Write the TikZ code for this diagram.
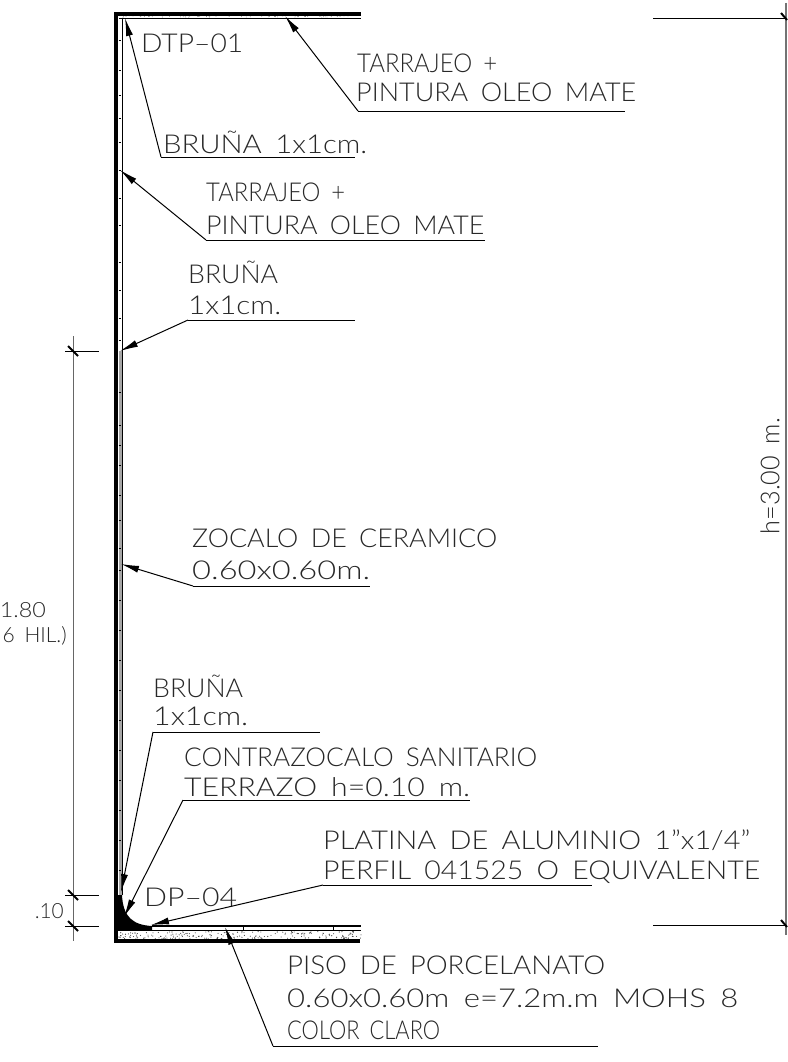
\documentclass[tikz,border=0pt]{standalone}
\usepackage{fontspec}
\setmainfont{Lato Light}[WordSpace=1.7]
\usetikzlibrary{arrows.meta}
\definecolor{tinta}{RGB}{40,40,40}
\newcommand{\ajusta}[2]{\resizebox{#1pt}{\height}{#2}}
\tikzset{
  etiqueta/.style={anchor=west,inner sep=0pt,text=tinta,font=\fontsize{26}{27}\selectfont},
  chica/.style={font=\fontsize{21}{22}\selectfont},
  guia/.style={line width=1pt,-{Latex[length=18pt,width=7pt]}},
  subraya/.style={line width=0.9pt},
  cota/.style={line width=0.9pt,black!60},
  extension/.style={line width=0.9pt},
  tick/.style={line width=2pt,black},
  muro/.style={line width=3.5pt,line cap=square}
}
\begin{document}
\begin{tikzpicture}[x=1pt,y=-1pt]
  \useasboundingbox (0,0) rectangle (787,1062);
  \fill[white] (0,0) rectangle (787,1062);
  % acabado de piso
  \pgfmathsetseed{41}
  \foreach \i in {1,...,210}
    \fill[black!75] ({118+rnd*243},{931.5+rnd*7.5}) circle (0.55);
  % acabado de techo
  \foreach \i in {1,...,60}
    \fill[black!60] ({120+rnd*240},{15.8+rnd*1.4}) circle (0.4);
  % muro y tarrajeo
  \fill[black!35] (118.5,351) rectangle (122,926);
  \draw[line width=0.8pt] (122.5,18) -- (122.5,895);
  \foreach \y in {40,70,95,118,142,170,198,225,262,290,318,340,
                  392,425,445,465,495,520,548,570,600,630,660,690,720,750,780,810,840,870}
    \draw[line width=0.7pt] (118.5,\y) -- (120.5,\y);
  \draw[line width=0.9pt] (119,18) -- (361,18);
  \draw[line width=1.1pt] (152,926) -- (361,926);
  \draw[line width=0.8pt] (118,930) -- (361,930);
  \foreach \x in {243,333}
    \draw[line width=0.6pt] (\x,926) -- (\x,930);
  \draw[muro] (361,14) -- (116,14) -- (116,941) -- (360,941);
  % contrazocalo
  \fill[black] (118,895) -- (122,895) .. controls (123,917) and (133,925) .. (152,926)
     -- (152,930) -- (118,930) -- cycle;
  % cota izquierda
  \coordinate (cotaA) at (73,336);
  \coordinate (cotaB) at (73,941);
  \draw[cota] (cotaA) -- (cotaB);
  \foreach \y in {351,895,926} {
    \draw[extension] (65,\y) -- (99,\y);
    \draw[tick] (68,\y-5) -- (78,\y+5);
  }
  \node[etiqueta,chica,anchor=east] (cotaTotal) at (46,610) {\ajusta{46}{1.80}};
  \node[etiqueta,chica,anchor=east] (cotaHil) at (67,636) {6 HIL.)};
  \node[etiqueta,chica,anchor=east] (cotaDiez) at (64,911) {\ajusta{29}{.10}};
  % cota derecha
  \coordinate (cotaC) at (786,3);
  \coordinate (cotaD) at (786,935);
  \draw[line width=1.4pt,black!55] (cotaC) -- (cotaD);
  \foreach \y in {18,925} {
    \draw[extension] (653,\y) -- (786,\y);
    \draw[tick] (781,\y-5) -- (787,\y+2);
  }
  \node[etiqueta,anchor=center,rotate=90] (altura) at (770,476) {\ajusta{116}{h=3.00 m.}};
  % textos
  \node[etiqueta] (dtp) at (141,43) {\ajusta{102}{DTP--01}};
  \node[etiqueta] (dp) at (144,897) {\ajusta{93}{DP--04}};
  \node[etiqueta] (tarrA) at (357,63) {\ajusta{140}{TARRAJEO +}};
  \node[etiqueta] (pintA) at (356,92) {\ajusta{280}{PINTURA OLEO MATE}};
  \node[etiqueta] (brunaA) at (163,142) {\ajusta{204}{BRUÑA 1x1cm.}};
  \node[etiqueta] (tarrB) at (206,192) {\ajusta{139}{TARRAJEO +}};
  \node[etiqueta] (pintB) at (206,225) {\ajusta{278}{PINTURA OLEO MATE}};
  \node[etiqueta] (brunaB) at (188,272) {\ajusta{90}{BRUÑA}};
  \node[etiqueta] (medB) at (188,305) {\ajusta{93}{1x1cm.}};
  \node[etiqueta] (zocalo) at (192,538) {\ajusta{305}{ZOCALO DE CERAMICO}};
  \node[etiqueta] (medZ) at (192,570) {\ajusta{178}{0.60x0.60m.}};
  \node[etiqueta] (brunaC) at (153,686) {\ajusta{90}{BRUÑA}};
  \node[etiqueta] (medC) at (153,716) {\ajusta{95}{1x1cm.}};
  \node[etiqueta] (contra) at (184,757) {\ajusta{353}{CONTRAZOCALO SANITARIO}};
  \node[etiqueta] (terrazo) at (184,787) {\ajusta{286}{TERRAZO h=0.10 m.}};
  \node[etiqueta] (platina) at (323,840) {\ajusta{427}{PLATINA DE ALUMINIO 1"x1/4"}};
  \node[etiqueta] (perfil) at (323,872) {\ajusta{437}{PERFIL 041525 O EQUIVALENTE}};
  \node[etiqueta] (piso) at (287,965) {\ajusta{318}{PISO DE PORCELANATO}};
  \node[etiqueta] (pisoMed) at (287,998) {\ajusta{451}{0.60x0.60m e=7.2m.m MOHS 8}};
  \node[etiqueta] (color) at (287,1030) {\ajusta{153}{COLOR CLARO}};
  % flechas
  \foreach \n/\xa/\ya/\xb/\yb/\xc in {
      a/285/16/358/111/625,
      b/125/18/161/157/355,
      c/120/170/206/240/485,
      d/120/351/188/320/355,
      e/121/564/193/586/370,
      f/121/892/153/732/320,
      g/124/917/183/800/470,
      h/151/925/323/885/592,
      i/225/927/273/1046/598} {
    \coordinate (punta\n) at (\xa,\ya);
    \coordinate (codo\n) at (\xb,\yb);
    \coordinate (fin\n) at (\xc,\yb);
    \draw[guia] (codo\n) -- (punta\n);
    \draw[subraya] (codo\n) -- (fin\n);
  }
\end{tikzpicture}
\end{document}
